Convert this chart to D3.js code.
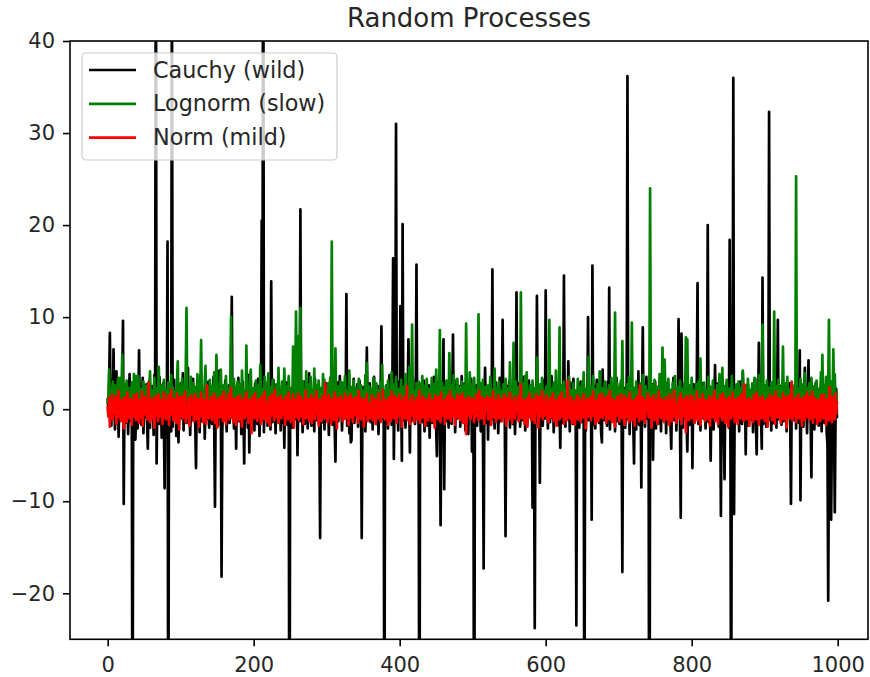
<!DOCTYPE html>
<html>
<head>
<meta charset="utf-8">
<script src="https://cdn.jsdelivr.net/npm/d3@7"></script>
<style>
  body { margin: 0; background: #fff; }
  svg { display: block; font-family: 'DejaVu Sans', sans-serif; }
</style>
</head>
<body>
<div id="chart"></div>
<script>
const title = 'Random Processes';
const seriesNames = ['Cauchy (wild)', 'Lognorm (slow)', 'Norm (mild)'];
const seriesColors = ['#000000', '#008000', '#ff0000'];
const xTicks = [0, 200, 400, 600, 800, 1000];
const yTicks = [-20, -10, 0, 10, 20, 30, 40];

// values, one per step (20 per row)
const cauchy = [
  1.2,-0.4,2.6,8.3,0.7,-1.8,3.1,-0.9,6.5,1.4,-2.2,0.3,4.1,-0.6,1.9,-3.0,0.8,2.4,-1.1,0.5,
  3.3,9.6,-10.3,0.9,-1.5,2.2,-0.3,1.7,-2.7,0.6,3.8,-1.2,0.4,2.9,-45,1.1,-0.8,3.6,-3.3,0.2,
  1.5,-2.1,0.7,6.4,-0.5,2.3,-1.7,0.9,3.4,-2.6,0.1,1.8,-0.9,2.7,-1.4,-4.3,0.6,3.1,-2.0,1.3,
  -0.7,2.5,0.4,-2.8,3.7,1.0,60,-5.9,0.8,2.1,-1.6,3.5,-0.2,1.4,-3.1,0.9,2.8,-1.3,-8.6,1.7,
  0.9,-1.4,18.2,-45,2.3,-0.6,1.5,-2.4,50,-1.9,0.7,3.2,-0.8,1.6,-2.9,0.4,2.0,-3.6,1.1,-0.3,
  2.8,-1.0,0.5,3.9,-2.3,1.2,-0.4,2.6,-1.5,0.8,4.5,-0.7,1.6,-2.8,0.3,2.2,-1.2,3.3,-0.5,1.0,
  -1.7,-6.4,0.9,2.5,-0.8,1.4,-2.5,3.6,0.2,-1.3,2.1,-0.6,1.8,-3.2,0.7,2.9,-1.1,0.4,3.0,-2.0,
  1.3,-0.9,2.4,-1.6,0.6,3.5,-2.2,-10.6,1.1,-0.4,2.7,-1.8,0.9,4.2,-0.7,1.5,-18.2,-2.6,0.8,2.0,
  -1.2,3.1,0.5,-2.4,1.7,-0.6,2.6,-1.5,0.3,3.8,12.2,-0.9,1.4,-2.1,2.3,0.7,-4.3,1.9,-0.8,3.4,
  -1.3,0.6,2.2,-2.7,1.0,3.0,-0.5,-5.9,1.6,-1.1,2.5,0.2,-2.0,3.7,-4.7,0.9,-0.6,2.1,-1.9,1.2,
  0.4,-2.3,2.8,-0.7,1.5,-1.6,3.3,0.1,-2.9,1.8,-0.4,20.5,-1.2,70,-2.5,1.3,2.7,-0.9,0.6,-1.8,
  2.4,-0.5,1.1,-2.2,13.9,0.8,-1.4,3.2,-0.3,1.7,-2.6,0.9,2.0,-1.0,3.6,-0.6,1.4,-2.3,0.5,2.6,
  -1.5,0.7,-4.2,1.9,-0.8,2.9,-1.7,0.4,3.1,-50,1.2,-0.6,2.3,-2.0,0.9,3.5,-1.1,1.6,-0.4,2.2,
  -5.0,0.8,2.4,-1.3,21.7,-0.7,1.8,-2.5,0.5,3.0,-1.6,1.2,-0.3,2.7,-2.1,0.6,3.9,-0.9,1.4,-1.8,
  2.1,-0.5,1.0,-2.4,3.3,0.2,-1.2,2.6,-0.8,1.5,-1.9,-14.0,0.9,2.3,-1.4,0.4,3.1,-2.2,1.3,-0.6,
  2.8,-1.1,0.7,-2.8,1.9,3.4,-0.4,1.2,-1.7,2.5,0.3,-2.0,-5.7,1.6,-0.9,2.9,-1.3,0.8,3.6,-0.7,
  1.4,-2.3,0.6,2.2,-1.0,1.7,-0.5,12.5,-1.8,0.9,2.6,-2.6,1.1,-3.6,-3.4,2.0,-0.8,3.3,-1.5,0.5,
  1.8,-0.6,2.7,-1.9,0.4,3.1,-1.2,1.5,-14.0,0.8,2.4,-0.9,1.3,-2.4,0.2,6.7,-1.1,1.9,-0.5,2.8,
  -1.4,0.7,2.1,-2.2,1.0,3.5,-0.7,1.6,-1.6,0.3,2.5,-2.7,1.2,-0.4,2.9,9.0,-1.0,0.6,2.0,-40,
  1.1,-1.5,2.6,0.4,-2.1,1.8,3.7,-0.8,1.3,-1.7,2.4,16.4,-5.4,1.0,2.2,31.0,-0.6,1.7,-2.3,3.0,
  0.5,11.2,1.4,-5.6,20.1,-1.2,2.1,0.8,-2.0,3.2,-0.7,1.6,7.6,0.9,-4.7,2.5,-1.3,0.6,3.4,-0.9,
  1.9,-1.6,0.7,15.7,-0.8,2.3,-2.1,-45,1.2,-0.5,2.8,-1.4,0.6,3.1,-2.4,1.5,-0.3,2.0,-1.8,0.9,
  2.6,-3.1,1.1,-0.6,2.2,-1.5,0.8,3.5,-0.9,1.7,-2.2,-5.1,0.4,2.9,-1.1,1.3,-12.6,-2.8,2.4,0.6,
  7.6,-8.7,1.0,2.7,-1.3,0.5,3.0,-2.0,1.4,-0.7,2.3,-1.6,0.9,8.1,-0.4,1.8,-2.5,0.7,3.2,-1.0,
  1.5,-0.8,2.5,-1.9,0.3,3.6,-1.2,1.1,-0.5,2.8,-2.3,0.8,1.9,-1.4,-2.7,2.1,0.4,-1.1,3.3,-4.6,
  0.9,2.0,-55,1.3,-0.7,2.6,-1.8,0.5,3.1,-1.0,1.7,-2.4,0.6,2.3,-0.9,-17.3,1.2,4.5,-1.5,0.8,
  2.2,-3.3,1.0,-0.4,2.7,-1.7,0.7,15.2,-1.1,1.6,-2.1,0.3,2.9,-0.8,1.4,-2.6,0.9,3.4,-1.3,0.5,
  1.8,9.7,-0.6,2.1,-1.4,-13.8,1.1,2.5,-0.9,0.4,3.0,-2.0,1.3,-0.5,2.4,-1.6,0.8,1.9,-2.7,0.6,
  12.7,-1.0,1.5,-0.3,2.8,-1.9,0.7,2.2,-1.2,3.5,-0.6,1.2,-2.3,0.9,2.6,-1.5,0.4,3.1,-0.8,1.7,
  -1.1,2.0,-10.7,0.5,-2.2,-23.8,1.4,-0.7,12.3,-1.3,2.3,0.8,-8.0,1.6,-0.4,2.7,-1.8,0.9,3.2,-1.0,
  12.9,-0.5,1.9,-2.1,0.6,2.4,-1.4,1.1,3.6,-0.9,1.5,-2.5,0.3,2.8,-1.2,0.8,2.1,-1.7,1.3,-0.6,
  -4.2,1.8,-0.8,2.5,-1.5,14.5,0.7,-1.9,2.2,0.4,-1.1,5.2,1.0,-2.4,2.9,-0.7,1.4,-1.6,3.3,0.5,
  -1.3,2.0,-23.5,1.2,-0.6,2.7,-2.0,0.9,3.0,-1.4,1.6,-0.5,2.3,-40,0.8,-2.3,1.9,-0.9,10.0,-1.2,
  2.4,-0.4,1.3,-12.0,15.6,-1.7,2.6,0.6,-2.1,1.5,3.2,-0.8,1.1,-1.5,2.8,0.3,-2.6,-3.6,4.3,-0.7,
  1.7,-1.2,2.2,0.5,-1.8,3.0,-0.6,13.2,-2.2,1.4,0.8,-1.0,2.5,-0.3,1.9,-2.4,0.9,3.4,-1.3,0.6,
  2.1,-1.6,0.7,2.8,-0.9,-17.7,1.5,-0.4,2.3,-2.0,1.0,3.1,36.2,-1.1,1.6,-2.7,0.5,2.4,-0.8,1.2,
  -1.4,-5.9,1.8,0.3,-2.2,2.6,-0.5,4.1,-1.7,0.9,2.0,-8.5,1.3,8.9,-0.7,2.2,-1.9,0.6,3.5,-1.0,
  1.4,-0.6,-60,2.1,-1.3,0.8,2.7,-5.5,1.1,-0.4,3.0,-2.1,0.5,1.8,-1.6,2.5,-0.8,1.2,-2.4,3.3,
  0.4,-1.1,2.3,-0.5,1.7,-2.6,0.9,2.9,-1.4,0.2,2.0,-1.8,-4.3,1.5,-0.7,3.4,-1.2,0.8,2.2,-2.3,
  1.3,-0.6,9.8,1.0,-1.5,-11.8,8.2,0.7,-2.0,2.4,-0.9,1.6,3.1,-1.3,-4.6,0.5,2.6,-1.7,1.1,-0.4,
  2.1,-6.4,0.8,2.7,-1.2,1.4,-0.5,3.2,13.7,-1.6,0.9,2.3,-2.3,1.2,-0.7,2.8,-1.0,0.4,1.9,-2.1,
  1.6,-0.8,20.0,-1.4,2.5,0.6,-5.6,1.3,-0.5,2.0,-2.2,0.9,4.8,-1.1,1.5,-0.3,2.8,-1.9,0.7,2.2,
  -11.6,1.2,-0.6,2.4,-1.5,-7.6,1.8,0.4,2.9,-1.2,1.0,-2.0,18.4,-0.9,-40,1.6,-0.7,36.0,-11.4,2.1,
  -1.3,0.7,2.6,-0.5,1.4,-2.4,3.0,-0.8,1.1,-1.6,4.0,0.3,-1.0,2.2,-4.9,1.5,-0.4,2.7,-1.8,0.6,
  1.9,-1.1,0.8,2.4,-2.5,1.2,-0.6,3.3,-1.4,-4.9,1.7,0.5,7.2,-1.0,2.0,-0.7,-4.3,14.3,-1.6,1.3,
  -0.5,2.6,-1.9,0.9,2.1,-1.2,32.3,-0.8,1.6,-2.3,0.4,2.9,-1.5,1.0,-0.3,2.4,-2.0,0.7,9.7,-1.1,
  1.8,-0.6,2.5,-1.7,0.9,3.1,-1.3,1.2,-0.4,2.2,-2.4,0.6,1.7,-0.9,2.8,-1.8,-10.3,1.4,-0.5,2.0,
  -1.2,0.8,2.6,-2.1,1.1,-0.7,3.0,-1.5,6.4,-9.9,1.3,-0.4,2.3,-1.9,0.5,4.5,-1.1,1.6,-2.6,0.9,
  5.3,-0.8,1.5,-1.6,-7.4,2.4,-0.5,1.1,-2.2,0.7,2.9,-1.3,0.4,2.1,-1.8,1.0,-0.6,2.6,-2.4,1.2,
  -0.9,1.8,-1.5,0.6,2.3,-2.7,-3.8,-20.8,-4.5,1.4,-3.2,-12.0,-2.6,0.8,-5.0,-2.0,-11.2,-1.4,2.2,-1.0
];

const lognorm = [
  0.6,1.4,4.3,0.9,2.1,0.4,1.7,3.0,0.8,1.2,2.6,0.5,1.9,0.7,3.3,1.1,3.4,0.6,1.5,2.2,
  5.9,0.8,1.3,2.7,0.5,1.0,3.1,1.6,0.4,2.3,0.9,1.8,0.6,2.9,1.2,0.7,3.8,1.4,0.5,3.6,
  1.0,2.4,3.6,0.8,1.5,0.3,2.2,1.1,0.6,3.0,1.7,0.9,2.5,0.5,1.3,2.8,0.7,1.9,4.1,1.2,
  0.6,2.0,1.4,0.9,3.4,0.5,1.6,2.3,0.8,1.1,4.6,0.7,1.8,0.4,2.6,1.3,0.9,3.2,1.5,0.6,
  2.1,1.0,0.5,2.9,1.7,0.8,1.3,3.7,0.6,2.4,1.1,0.7,2.0,1.5,0.4,3.1,5.2,0.9,1.6,2.5,
  0.7,1.8,3.3,1.2,0.5,2.6,0.9,4.4,11.0,1.4,0.8,2.2,1.0,0.6,3.5,1.7,0.9,2.8,0.5,1.3,
  2.4,0.8,1.5,3.8,0.6,1.9,1.1,2.7,7.5,1.3,0.7,2.1,0.9,3.0,4.7,0.5,1.6,2.3,1.0,0.8,
  3.2,1.4,0.6,2.5,1.1,0.9,4.0,1.7,0.5,5.9,1.2,2.0,0.7,1.5,3.1,4.3,0.8,1.8,0.6,2.6,
  1.0,0.7,3.6,1.3,0.9,2.2,0.5,1.6,2.9,10.0,1.2,0.6,1.9,3.3,0.8,1.4,0.5,2.4,3.0,1.1,
  0.9,2.7,1.5,0.6,4.2,1.1,0.8,2.0,1.7,0.5,6.9,1.3,0.7,2.5,1.0,3.4,4.3,0.9,1.6,0.6,
  2.3,1.2,0.8,3.1,0.6,1.7,2.6,1.0,0.5,4.8,1.4,0.9,2.2,1.1,0.7,3.5,1.6,0.8,2.9,1.3,
  3.9,0.7,1.5,2.4,1.0,0.6,3.2,1.8,0.9,1.3,0.5,2.7,1.1,0.8,4.5,1.6,0.6,2.0,1.2,3.0,
  0.8,1.9,4.4,1.0,0.6,2.5,1.4,0.9,3.6,1.2,0.7,2.1,1.5,0.5,6.8,2.8,1.1,3.3,10.6,1.7,
  0.9,2.4,8.0,1.2,11.0,1.6,0.8,3.0,1.3,0.6,2.2,1.0,4.1,0.7,1.8,2.7,0.5,1.4,3.5,0.9,
  1.6,2.0,0.7,4.4,1.1,0.8,2.6,1.3,0.5,3.1,1.7,0.9,2.3,1.0,0.6,3.8,1.5,3.2,0.8,2.1,
  1.2,0.7,2.8,1.4,0.9,3.4,1.1,18.2,1.6,0.8,2.2,1.3,6.6,0.6,1.9,2.5,1.0,0.7,1.5,3.0,
  0.8,1.7,2.9,1.0,0.6,3.6,1.3,0.9,2.0,1.5,0.5,4.2,1.1,0.8,2.4,1.6,0.7,3.1,1.2,0.9,
  2.3,1.0,0.6,1.8,3.3,1.2,0.8,2.6,1.4,0.5,2.0,1.1,0.7,3.7,1.6,5.0,0.9,1.3,2.5,0.8,
  1.5,0.7,2.2,1.0,3.4,0.6,1.7,1.2,2.8,0.9,0.5,2.1,1.4,0.8,3.0,1.1,4.8,0.7,1.9,1.3,
  0.9,2.5,1.2,0.6,3.1,1.5,0.8,2.0,1.0,4.0,0.7,1.6,2.7,1.1,0.5,3.5,1.3,0.9,2.2,1.4,
  0.8,1.9,3.2,1.1,0.6,2.4,1.5,0.9,3.8,1.2,0.7,2.1,1.0,4.6,1.4,0.8,2.6,9.2,1.3,0.9,
  2.0,1.1,0.7,2.8,1.6,0.5,3.0,1.2,0.9,2.3,1.4,3.6,0.8,1.7,2.5,1.0,0.6,3.3,1.5,0.9,
  1.3,2.2,0.8,1.5,3.4,1.0,0.6,2.7,1.2,0.9,4.3,1.6,0.7,2.0,1.1,8.6,1.4,0.8,2.9,1.2,
  0.9,2.4,1.3,0.7,3.1,1.0,1.8,0.6,6.1,1.5,0.8,2.6,1.2,0.9,3.7,1.4,0.7,2.1,1.0,3.3,
  1.6,0.8,2.3,1.1,0.6,3.0,1.4,0.9,2.5,1.2,0.7,9.3,1.7,1.0,2.2,0.8,4.0,1.3,0.6,2.7,
  1.1,0.9,3.4,1.5,0.7,2.0,1.2,0.8,10.3,1.6,0.9,2.8,1.3,0.6,3.2,1.0,1.7,0.8,2.4,1.4,
  0.7,2.6,1.2,0.9,3.5,1.4,0.6,2.1,1.1,0.8,4.4,1.5,1.0,2.3,0.7,1.8,3.0,1.2,0.9,2.0,
  1.3,0.8,2.7,1.1,0.6,3.3,1.6,0.9,2.2,1.4,0.7,5.1,1.0,2.5,1.2,0.8,7.2,1.5,0.9,3.0,
  1.2,0.7,2.4,1.0,1.6,0.8,12.7,1.3,0.9,2.8,1.1,0.6,3.6,1.4,4.0,0.9,2.1,1.2,0.7,2.6,
  1.5,0.9,3.1,1.1,0.6,2.3,1.3,0.8,5.6,1.0,1.7,0.7,2.7,1.2,0.9,3.4,1.5,0.6,2.0,1.1,
  0.8,2.5,1.3,0.9,3.2,9.7,1.0,0.7,2.2,1.4,0.6,2.9,1.2,0.8,4.2,1.5,1.0,2.4,0.7,8.9,
  1.1,0.8,2.6,1.3,0.6,3.0,1.0,1.8,0.9,2.3,1.2,0.7,3.5,1.4,0.9,2.1,1.1,0.6,2.8,1.3,
  0.9,2.0,1.2,0.7,3.3,1.5,0.8,2.4,1.0,0.6,2.9,1.3,4.0,0.9,1.6,2.2,0.7,1.1,3.1,5.7,
  1.0,0.8,2.5,1.2,0.6,3.6,1.4,0.9,2.1,1.1,0.7,2.7,1.3,0.8,4.1,1.0,1.7,0.6,2.3,1.2,
  0.9,3.0,1.4,0.7,2.2,1.1,0.8,2.6,1.3,0.6,3.4,1.0,1.5,0.8,2.0,10.5,1.2,0.9,2.8,1.4,
  0.7,2.4,1.1,3.1,0.9,7.4,1.3,0.8,2.0,1.2,0.6,2.7,1.5,0.9,3.5,1.0,1.4,0.7,9.4,1.1,
  0.8,2.3,1.2,0.6,3.0,1.4,0.9,2.1,1.0,0.7,2.8,1.3,0.8,3.7,1.1,1.6,0.6,2.5,1.2,0.9,
  2.0,1.1,0.7,24.0,1.4,0.9,2.6,1.2,0.6,3.2,1.0,1.7,0.8,2.4,1.3,0.7,3.8,1.1,0.9,2.2,
  6.7,1.2,0.8,5.4,1.0,2.7,1.4,0.7,3.3,1.1,0.9,2.1,1.5,0.6,2.9,1.2,0.8,3.6,1.0,1.7,
  0.7,2.4,1.3,0.9,3.1,1.1,0.6,2.2,1.5,0.8,2.8,1.2,7.8,1.0,7.6,1.4,0.7,2.5,1.1,0.9,
  3.4,1.3,0.8,2.0,1.1,0.6,2.7,1.4,0.9,3.0,1.0,1.6,5.5,0.8,2.3,1.2,0.7,2.9,1.3,0.9,
  2.1,1.0,0.6,3.5,1.4,0.8,2.4,1.1,0.7,3.1,1.3,0.9,2.0,1.5,0.6,2.6,1.2,0.8,3.8,1.0,
  1.4,0.9,4.5,1.1,0.7,2.5,1.3,0.8,3.2,1.0,1.6,0.6,2.2,1.2,0.9,3.6,1.4,0.7,2.0,1.1,
  0.8,2.7,1.3,0.9,3.0,1.1,0.6,2.3,1.5,0.8,4.2,1.0,1.7,0.7,2.6,1.2,0.9,3.3,1.4,0.8,
  2.1,1.2,0.7,2.8,1.0,0.6,3.4,1.3,0.9,2.2,1.1,0.8,3.7,1.5,0.7,2.4,1.0,9.2,1.3,0.9,
  2.6,1.1,0.8,3.1,1.4,0.6,2.3,1.2,0.9,2.9,1.0,1.6,0.7,10.6,1.3,0.9,2.5,1.1,0.6,3.2,
  1.2,0.8,2.4,1.0,1.6,6.8,1.3,0.7,2.8,1.1,0.9,3.5,1.4,0.6,2.1,1.2,0.8,3.0,1.0,1.5,
  0.7,2.6,1.1,25.3,1.3,0.9,2.2,1.0,0.6,3.3,1.4,0.8,2.7,1.2,0.9,3.9,1.1,0.7,2.3,1.5,
  0.9,2.8,1.2,0.7,3.4,1.0,1.6,0.8,2.5,1.3,0.6,3.1,1.1,0.9,2.2,1.4,0.7,4.0,1.2,5.9,
  1.0,2.6,1.3,0.8,3.5,1.1,0.7,2.4,9.7,1.5,0.9,3.0,1.2,0.8,6.5,1.4,3.8,1.0,0.7,1.6
];

const norm = [
  0.3,-0.8,1.2,-1.9,0.5,-0.2,1.6,-1.1,0.9,-0.5,0.1,1.4,-1.6,0.7,-0.3,2.0,-0.9,0.4,-1.3,1.0,
  -0.6,0.8,-2.1,1.3,-0.1,0.6,-1.4,1.8,-0.7,0.2,-1.0,1.1,0.4,-1.7,0.9,-0.4,1.5,-0.8,0.3,-1.2,
  1.7,-0.3,0.6,-1.5,1.0,-0.9,0.2,1.9,-1.8,0.5,-0.6,1.3,-0.2,0.8,-1.1,0.4,2.9,-0.7,-1.4,0.9,
  -0.4,1.2,-1.0,0.3,-2.0,0.7,1.4,-0.5,0.1,-1.3,1.6,-0.8,0.5,-0.1,1.0,-1.6,0.6,1.8,-0.9,0.2,
  -1.1,0.9,-0.3,1.5,-1.7,0.4,-0.6,2.1,-0.2,0.7,-1.2,1.1,-0.8,0.3,-1.5,1.7,-0.4,0.6,-2.2,1.3,
  0.1,-0.7,1.4,-1.0,0.8,-0.3,1.9,-1.4,0.5,-0.9,0.2,1.2,-1.8,0.7,-0.1,1.5,-0.6,0.9,-1.3,0.4,
  1.6,-1.1,0.3,-0.5,1.1,-1.9,0.6,-0.2,1.8,-0.8,0.4,-1.4,1.0,-0.3,0.7,-1.6,2.6,-0.6,0.2,-1.0,
  0.9,-0.4,1.3,-1.2,0.5,-0.7,1.7,-1.5,0.1,0.8,-2.0,1.2,-0.5,0.6,-0.9,1.4,-0.2,0.3,-1.3,1.9,
  -0.8,0.5,-1.6,1.0,-0.1,1.6,-1.1,0.4,-0.6,2.3,-0.9,0.7,-1.4,1.1,-0.3,0.2,-1.7,1.3,-0.5,0.8,
  -1.2,1.5,-0.4,0.6,-1.9,0.9,-0.2,1.2,-1.0,0.3,1.8,-0.7,0.5,-1.5,1.0,-0.3,0.7,-2.6,1.4,-0.6,
  0.4,-1.0,1.7,-0.5,0.8,-1.3,0.2,1.1,-0.8,0.6,-1.6,1.4,-0.1,0.9,-1.1,1.9,-0.6,0.3,-1.4,0.7,
  -0.3,1.3,-1.8,0.5,-0.7,1.6,-0.2,0.8,-1.2,2.1,-0.9,0.4,-0.5,1.2,-1.5,0.6,-0.1,1.5,-1.0,0.2,
  1.0,-0.6,0.7,-1.7,1.4,-0.3,0.5,-1.1,1.8,-0.8,0.3,-1.4,0.9,-0.2,1.6,-2.0,0.6,-0.5,1.1,-0.9,
  0.5,1.7,-1.2,0.2,-0.8,1.3,-0.4,0.9,-1.6,0.6,-0.1,2.0,-1.0,0.4,-0.7,1.1,-1.3,0.8,-0.3,1.5,
  -1.5,0.3,-0.6,1.2,-1.1,0.7,1.9,-0.5,0.1,-1.8,1.0,-0.2,0.6,-1.3,1.4,-0.7,0.4,-1.0,2.8,-0.4,
  0.8,-1.4,0.2,1.5,-0.9,0.5,-1.6,1.1,-0.3,0.7,-1.2,1.8,-0.6,0.3,-2.1,1.2,-0.1,0.9,-0.8,1.4,
  -0.2,0.6,-1.3,1.0,-0.5,1.7,-1.0,0.4,-0.7,1.3,-1.7,0.8,-0.3,1.6,-0.9,0.2,-1.4,1.1,-0.6,0.9,
  1.3,-0.8,0.4,-1.5,2.0,-0.4,0.7,-1.1,1.2,-0.2,0.5,-1.9,1.0,-0.6,0.3,1.6,-1.3,0.6,-0.1,-1.0,
  0.7,-0.3,1.5,-1.2,0.2,-0.8,1.1,-1.6,0.9,0.4,-1.0,1.7,-0.5,0.6,-1.4,0.8,-0.2,2.1,-0.9,0.3,
  -1.1,1.0,-0.6,0.5,-1.7,1.3,-0.1,0.8,-1.3,1.9,-0.7,0.3,-1.0,1.4,-0.4,0.6,-1.5,1.2,-0.8,0.1,
  1.6,-0.5,0.9,-1.9,0.4,-0.3,1.3,-1.0,0.6,-0.8,2.5,-1.2,0.2,0.7,-1.6,1.0,-0.4,1.5,-0.7,0.3,
  -1.4,0.8,-0.2,1.2,-1.1,0.5,-0.6,2.0,-1.5,0.3,0.9,-0.9,1.4,-0.3,0.6,-1.8,1.1,-0.5,0.7,-1.2,
  0.2,1.6,-0.8,0.4,-1.3,1.0,-0.4,0.8,-2.0,1.5,-0.1,0.6,-1.1,1.3,-0.6,0.3,-1.4,1.8,-0.3,0.9,
  -0.7,0.5,-1.6,1.1,-0.2,1.4,-1.0,0.3,-0.5,1.9,-1.3,0.7,-0.8,1.2,-0.1,0.4,-1.7,1.0,-0.6,1.6,
  -0.9,0.2,1.3,-1.2,0.6,-0.4,1.7,-1.5,0.8,-0.3,1.1,-2.7,0.5,-0.7,1.4,-0.2,0.9,-1.1,0.3,1.2,
  -0.5,1.0,-1.4,0.4,-0.8,1.6,-0.2,0.7,-1.2,2.0,-0.6,0.3,-1.0,1.3,-0.4,0.8,-1.6,1.1,-0.1,0.5,
  1.4,-1.1,0.6,-0.3,1.2,-1.7,0.4,-0.6,1.9,-0.9,0.2,1.0,-1.4,0.7,-0.2,1.5,-1.0,0.3,-0.7,1.1,
  -1.3,0.8,-0.5,1.6,-0.9,0.1,-1.8,1.2,-0.4,0.6,-1.1,1.8,-0.2,0.9,-1.5,0.5,-0.6,1.3,-1.0,0.4,
  0.7,-0.2,1.4,-1.3,0.3,-0.7,2.7,-1.0,0.5,-0.4,1.0,-1.6,0.8,-0.1,1.2,-1.9,0.6,-0.5,1.7,-0.8,
  0.2,-1.2,1.1,-0.6,0.9,-1.5,0.4,1.6,-0.3,0.7,-2.0,1.3,-0.8,0.5,-0.2,1.9,-1.1,0.3,-0.7,1.0,
  -0.4,1.5,-1.0,0.6,-1.4,0.2,1.2,-0.9,0.8,-0.3,1.7,-1.3,0.4,-0.6,1.0,-1.8,0.7,-0.1,1.4,-1.1,
  0.5,-0.8,1.8,-0.2,0.6,-1.6,1.1,-0.5,0.3,-1.2,3.1,-0.7,0.9,-1.0,0.2,1.3,-1.5,0.6,-0.4,0.8,
  -1.7,1.0,-0.3,1.5,-1.1,0.4,-0.6,1.2,-1.4,0.7,0.1,-0.9,1.6,-0.5,0.9,-2.1,0.3,1.1,-0.8,0.6,
  -0.2,1.3,-1.2,0.5,-0.7,1.9,-0.4,0.8,-1.6,1.0,-0.1,0.6,-1.3,1.5,-0.9,0.3,-0.5,1.7,-1.0,0.4,
  1.2,-0.6,0.2,-1.5,1.4,-0.3,0.7,-1.1,2.0,-0.8,0.5,-1.4,1.1,-0.2,0.6,-1.9,0.9,-0.5,1.3,-0.7,
  0.3,-1.3,1.6,-0.4,0.8,-1.0,0.1,1.5,-1.7,0.6,-0.3,1.2,-0.9,0.4,-1.4,1.8,-0.6,0.7,-1.2,0.9,
  -0.5,0.4,-1.8,1.1,-0.2,1.4,-0.8,0.6,-1.3,2.6,-0.7,0.2,-1.1,1.3,-0.4,0.8,-1.5,1.0,-0.1,0.5,
  1.7,-0.9,0.3,-0.6,1.2,-2.0,0.7,-0.3,1.5,-1.2,0.5,-0.5,1.0,-1.6,0.4,1.9,-0.8,0.2,-1.0,1.1,
  -0.3,0.9,-1.4,0.6,-0.7,1.3,-1.1,0.4,0.8,-1.7,1.6,-0.2,0.5,-1.3,1.0,-0.6,2.0,-0.9,0.3,-1.5,
  0.6,-0.4,1.2,-1.0,0.2,1.7,-1.6,0.5,-0.8,1.1,-0.3,0.7,-2.5,1.4,-0.5,0.9,-1.2,0.1,1.5,-0.7,
  -1.0,1.3,-0.6,0.4,-1.5,0.8,-0.1,1.9,-1.2,0.6,-0.4,1.1,-1.7,0.3,-0.7,1.6,-0.9,0.5,-1.3,1.0,
  0.4,-1.1,0.9,-0.3,1.4,-1.8,0.6,-0.5,1.2,-0.9,0.2,2.0,-1.3,0.7,-0.2,1.0,-1.6,0.5,-0.6,1.5,
  -0.8,0.3,-1.2,1.7,-0.4,0.7,-1.5,1.1,-0.1,0.5,-1.9,1.3,-0.6,0.9,-1.0,0.2,1.8,-0.7,0.4,-1.4,
  1.1,-0.5,0.6,-1.6,1.3,-0.2,0.8,-1.0,1.6,-0.7,0.3,-1.3,2.7,-0.4,0.5,-1.1,0.9,-0.3,1.2,-1.8,
  0.2,1.0,-0.9,0.5,-1.4,1.5,-0.6,0.4,-1.1,1.8,-0.2,0.7,-1.7,1.2,-0.5,0.3,-1.0,1.4,-0.8,0.6,
  -1.3,0.9,-0.3,1.1,-1.9,0.6,-0.7,1.6,-0.4,0.2,-1.2,1.3,-0.5,0.8,-1.6,1.9,-0.1,0.5,-0.9,1.2,
  -0.6,0.4,-1.5,1.0,-0.2,1.7,-1.1,0.6,-0.8,1.3,-2.0,0.7,-0.3,1.5,-1.0,0.4,-0.6,2.9,-1.2,0.3,
  0.8,-0.7,1.2,-1.4,0.5,-0.1,1.6,-1.0,0.3,-0.5,1.1,-1.8,0.9,-0.3,1.4,-1.2,0.6,-0.4,1.8,-0.9,
  0.1,1.3,-1.1,0.7,-0.6,1.9,-1.5,0.4,-0.2,1.2,-0.9,0.5,-1.6,1.0,-0.3,0.8,-1.3,1.5,-0.7,0.2,
  -1.0,1.6,-0.4,0.6,-1.7,1.1,-0.2,0.9,-1.2,2.4,-0.6,0.3,-1.4,1.3,-0.8,0.5,-1.1,1.7,-0.5,0.9
];

const width = 870;
const height = 677;
const plot = { left: 70, right: 868, top: 41, bottom: 639.3 };

const svg = d3.select('#chart').append('svg')
  .attr('width', width)
  .attr('height', height)
  .attr('viewBox', `0 0 ${width} ${height}`);

const x = d3.scaleLinear().domain([-51.6, 1041.5]).range([plot.left, plot.right]);
const y = d3.scaleLinear().domain([-25, 40]).range([plot.bottom, plot.top]);

svg.append('clipPath')
  .attr('id', 'plot-clip')
  .append('rect')
  .attr('x', plot.left)
  .attr('y', plot.top)
  .attr('width', plot.right - plot.left)
  .attr('height', plot.bottom - plot.top);

const line = d3.line()
  .x((d, i) => x(i))
  .y(d => y(d));

const lines = svg.append('g').attr('clip-path', 'url(#plot-clip)');
[cauchy, lognorm, norm].forEach((values, k) => {
  lines.append('path')
    .datum(values)
    .attr('d', line)
    .attr('fill', 'none')
    .attr('stroke', seriesColors[k])
    .attr('stroke-width', 2.7)
    .attr('stroke-linejoin', 'round');
});

// axes
const xAxis = d3.axisBottom(x).tickValues(xTicks).tickFormat(d3.format('d'))
  .tickSize(7).tickPadding(11);
const yAxis = d3.axisLeft(y).tickValues(yTicks).tickSize(7).tickPadding(8);

const gx = svg.append('g')
  .attr('transform', `translate(0,${plot.bottom})`)
  .call(xAxis);
const gy = svg.append('g')
  .attr('transform', `translate(${plot.left},0)`)
  .call(yAxis);

[gx, gy].forEach(g => {
  g.select('.domain').remove();
  g.selectAll('.tick line').attr('stroke', '#000').attr('stroke-width', 1.6);
  g.selectAll('.tick text')
    .attr('fill', '#262626')
    .attr('font-family', "'DejaVu Sans', sans-serif")
    .attr('font-size', 21);
});

svg.append('rect')
  .attr('x', plot.left)
  .attr('y', plot.top)
  .attr('width', plot.right - plot.left)
  .attr('height', plot.bottom - plot.top)
  .attr('fill', 'none')
  .attr('stroke', '#000')
  .attr('stroke-width', 1.6);

svg.append('text')
  .attr('x', (plot.left + plot.right) / 2)
  .attr('y', 26.5)
  .attr('text-anchor', 'middle')
  .attr('font-size', 26)
  .attr('fill', '#262626')
  .text(title);

// legend
const legend = svg.append('g');
legend.append('rect')
  .attr('x', 82)
  .attr('y', 53)
  .attr('width', 255)
  .attr('height', 107)
  .attr('rx', 4)
  .attr('fill', '#fff')
  .attr('fill-opacity', 0.8)
  .attr('stroke', '#cccccc')
  .attr('stroke-width', 1.2);

seriesNames.forEach((name, k) => {
  const rowY = 70 + k * 33.8;
  legend.append('line')
    .attr('x1', 89)
    .attr('x2', 136)
    .attr('y1', rowY)
    .attr('y2', rowY)
    .attr('stroke', seriesColors[k])
    .attr('stroke-width', 2.7);
  legend.append('text')
    .attr('x', 153)
    .attr('y', rowY + 7.5)
    .attr('font-size', 22.3)
    .attr('fill', '#262626')
    .text(name);
});
</script>
</body>
</html>
